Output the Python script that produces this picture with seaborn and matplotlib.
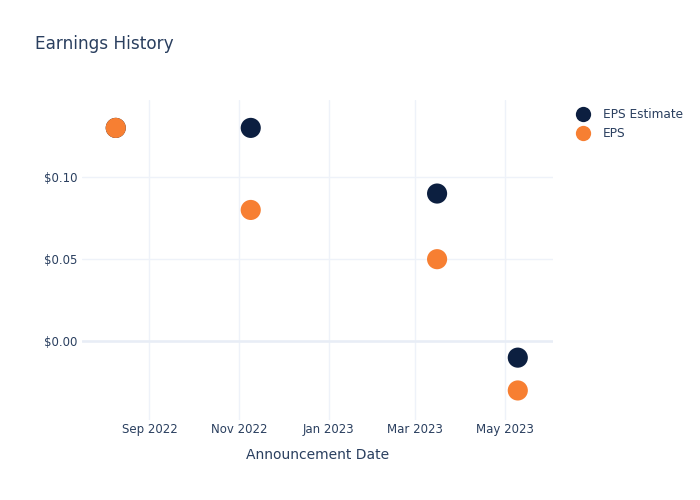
import matplotlib
matplotlib.use("Agg")
import matplotlib.pyplot as plt
import matplotlib.dates as mdates
from matplotlib.ticker import FuncFormatter
import seaborn as sns
import pandas as pd
from matplotlib.lines import Line2D

dates = ["2022-08-09", "2022-11-09", "2023-03-16", "2023-05-10"]
eps_estimate = [0.13, 0.13, 0.09, -0.01]
eps_actual = [0.13, 0.08, 0.05, -0.03]
series_names = ["EPS Estimate", "EPS"]
colors = ["#0c1f40", "#f77f32"]

df = pd.DataFrame({
    "date": pd.to_datetime(dates * 2),
    "value": eps_estimate + eps_actual,
    "series": [series_names[0]] * 4 + [series_names[1]] * 4,
})

sns.set_style("white")
plt.rcParams['font.family'] = ['DejaVu Sans']
text_color = "#2a3f5f"
grid_color = "#eef2f9"

fig = plt.figure(figsize=(7, 5), dpi=100)
ax = fig.add_axes([82/700, 1-420/500, (553-82)/700, 320/500])

sns.scatterplot(data=df, x="date", y="value", hue="series", palette=colors,
                hue_order=series_names, s=210, linewidth=0, ax=ax, legend=False, zorder=3)

ax.set_xlim(pd.Timestamp("2022-07-17"), pd.Timestamp("2023-06-03"))
ax.set_ylim(-0.048, 0.147)
ax.set_yticks([0.0, 0.05, 0.10])
ax.yaxis.set_major_formatter(FuncFormatter(lambda v, p: f"${v:.2f}"))
ax.xaxis.set_major_locator(mdates.MonthLocator(bymonth=[1, 3, 5, 7, 9, 11]))
ax.xaxis.set_major_formatter(mdates.DateFormatter("%b %Y"))

ax.grid(True, color=grid_color, linewidth=1)
ax.axhline(0, color="#e8edf6", linewidth=1.8, zorder=1)
for s in ax.spines.values():
    s.set_visible(False)
ax.tick_params(axis="both", length=0, labelsize=8.5, colors=text_color)
ax.tick_params(axis="x", pad=2)
ax.tick_params(axis="y", pad=3)
ax.set_xlabel("Announcement Date", fontsize=10, color=text_color, labelpad=9)
ax.set_ylabel("")

fig.text(35/700, 1-44/500, "Earnings History", fontsize=12.2, color=text_color, va="center", ha="left")

handles = [Line2D([0], [0], marker="o", linestyle="", markersize=11,
                  markerfacecolor=c, markeredgewidth=0) for c in colors]
leg = fig.legend(handles, series_names, loc="upper left", bbox_to_anchor=(571/700, 1-103/500),
                 frameon=False, fontsize=8.7, handletextpad=1.05, labelspacing=0.55,
                 borderaxespad=0, handlelength=1.2)
for t in leg.get_texts():
    t.set_color(text_color)

fig.savefig("out.png", dpi=100)
